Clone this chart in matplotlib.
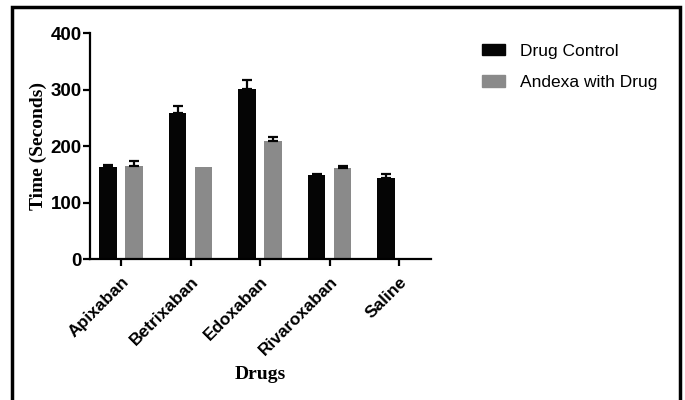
import matplotlib
matplotlib.use("Agg")
import matplotlib.pyplot as plt
import matplotlib.patches as mpatches
import numpy as np

# Données
drugs = ["Apixaban", "Betrixaban", "Edoxaban", "Rivaroxaban", "Saline"]
control_mean = [163, 258, 301, 149, 143]
control_err = [4, 13, 17, 2, 7]
andexa_mean = [165, 163, 209, 162, 0]
andexa_err = [8, 0, 8, 3, 0]
yticks = [0, 100, 200, 300, 400]

BLACK = "#050505"
GREY = "#8a8a8a"

fig = plt.figure(figsize=(6.85, 4.0), dpi=100)
W, H = 685, 400

# Axes en pixels : x 90 -> 431, y 33 -> 259
ax = fig.add_axes([90 / W, (H - 259) / H, (431 - 90) / W, (259 - 33.3) / H])

x = np.arange(len(drugs))
width = 0.25
off = 0.187
err_kw = dict(fmt="none", ecolor=BLACK, capsize=3.5, elinewidth=1.6, capthick=1.6)

# Barres contrôle
ax.bar(x - off, control_mean, width, color=BLACK, label="Drug Control")
ce = np.array(control_err)
ax.errorbar((x - off)[ce > 0], np.array(control_mean)[ce > 0],
            yerr=[np.zeros((ce > 0).sum()), ce[ce > 0]], **err_kw)

# Barres Andexa (pas de barre pour Saline)
am = np.array(andexa_mean)
ae = np.array(andexa_err)
mask = am > 0
ax.bar(x[mask] + off, am[mask], width, color=GREY, label="Andexa with Drug")
em = mask & (ae > 0)
ax.errorbar((x + off)[em], am[em], yerr=[np.zeros(em.sum()), ae[em]], **err_kw)

ax.set_xlim(-0.446, 4.46)
ax.set_ylim(0, 400)
ax.set_yticks(yticks)
ax.set_xticks(x)

for side in ["top", "right"]:
    ax.spines[side].set_visible(False)
for side in ["left", "bottom"]:
    ax.spines[side].set_linewidth(1.6)

ax.tick_params(axis="both", direction="out", length=5, width=1.6)
ax.tick_params(axis="y", labelsize=13.5, pad=1)
for lab in ax.get_yticklabels():
    lab.set_fontweight("bold")
    lab.set_family("Liberation Sans")

ax.set_xticklabels(drugs, rotation=45, ha="right", rotation_mode="anchor",
                   fontsize=12.5, fontweight="bold", family="Liberation Sans")
ax.tick_params(axis="x", pad=6)

ax.set_ylabel("Time (Seconds)", family="Liberation Serif", fontweight="bold",
              fontsize=14)
ax.yaxis.set_label_coords(-(90 - 47) / (431 - 90), 0.5)
ax.set_xlabel("Drugs", family="Liberation Serif", fontweight="bold",
              fontsize=14)
ax.xaxis.set_label_coords(0.5, -(366 - 259) / (259 - 33.3))

# Légende
handles = [
    mpatches.Patch(color=BLACK, label="Drug Control"),
    mpatches.Patch(color=GREY, label="Andexa with Drug"),
]
fig.legend(handles=handles, loc="upper left", bbox_to_anchor=(466 / W, 1 - 28 / H),
           frameon=False, prop={"family": "Liberation Sans", "size": 12.5},
           handlelength=1.35, handleheight=0.6, labelspacing=0.95, handletextpad=0.85)

# Cadre autour de la figure
frame = mpatches.Rectangle((12 / W, -0.02), (680 - 12) / W, (H - 7) / H + 0.02,
                           transform=fig.transFigure, fill=False,
                           edgecolor="black", linewidth=2.5, clip_on=False)
fig.patches.append(frame)

fig.savefig("out.png", dpi=100)
